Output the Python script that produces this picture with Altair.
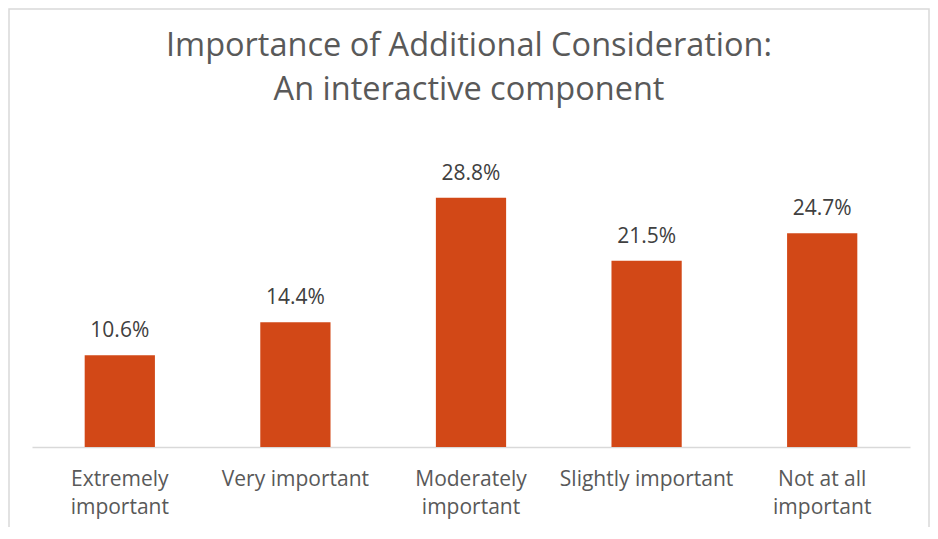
import altair as alt
import pandas as pd

categories = ["Extremely\nimportant", "Very important", "Moderately\nimportant",
              "Slightly important", "Not at all\nimportant"]
values = [10.6, 14.4, 28.8, 21.5, 24.7]
value_labels = ["10.6%", "14.4%", "28.8%", "21.5%", "24.7%"]
title_lines = ["Importance of Additional Consideration:", "An interactive component"]

df = pd.DataFrame({"cat": categories, "val": values, "lab": value_labels})
frame = pd.DataFrame({"a": [0]})

FONT = "Open Sans"

x = alt.X("cat:N", sort=categories, title=None,
          scale=alt.Scale(paddingInner=0.6, paddingOuter=0.3),
          axis=alt.Axis(labelAngle=0, ticks=False, domainColor="#d9d9d9", domainWidth=1.5,
                        labelFont=FONT, labelFontSize=21, labelColor="#595959",
                        labelPadding=21, labelLineHeight=28, labelBaseline="top",
                        labelExpr="split(datum.label, '\\n')"))
y = alt.Y("val:Q", title=None, scale=alt.Scale(domain=[0, 35], nice=False),
          axis=None)

bars = alt.Chart(df).mark_bar(color="#D24817").encode(x=x, y=y)
labels = alt.Chart(df).mark_text(font=FONT, fontSize=21, color="#404040", dy=-18,
                                 baseline="alphabetic").encode(x=x, y=y, text="lab:N")

border = alt.Chart(frame).mark_rect(fill=None, stroke="#d9d9d9", strokeWidth=1.5).encode(
    x=alt.value(-23), x2=alt.value(897), y=alt.value(-135), y2=alt.value(400))

t1 = alt.Chart(frame).mark_text(font=FONT, fontSize=32.5, color="#595959", baseline="alphabetic",
                                text=title_lines[0]).encode(x=alt.value(437), y=alt.value(-88))
t2 = alt.Chart(frame).mark_text(font=FONT, fontSize=32.5, color="#595959", baseline="alphabetic",
                                text=title_lines[1]).encode(x=alt.value(437), y=alt.value(-44))

chart = alt.layer(border, t1, t2, bars, labels).properties(
    width=878, height=303,
    padding={"left": 24, "top": 136, "right": 20, "bottom": 80},
    autosize=alt.AutoSizeParams(type="none"),
).configure_view(stroke=None)

chart.save("out.html", embed_options={"renderer": "svg", "actions": False})
